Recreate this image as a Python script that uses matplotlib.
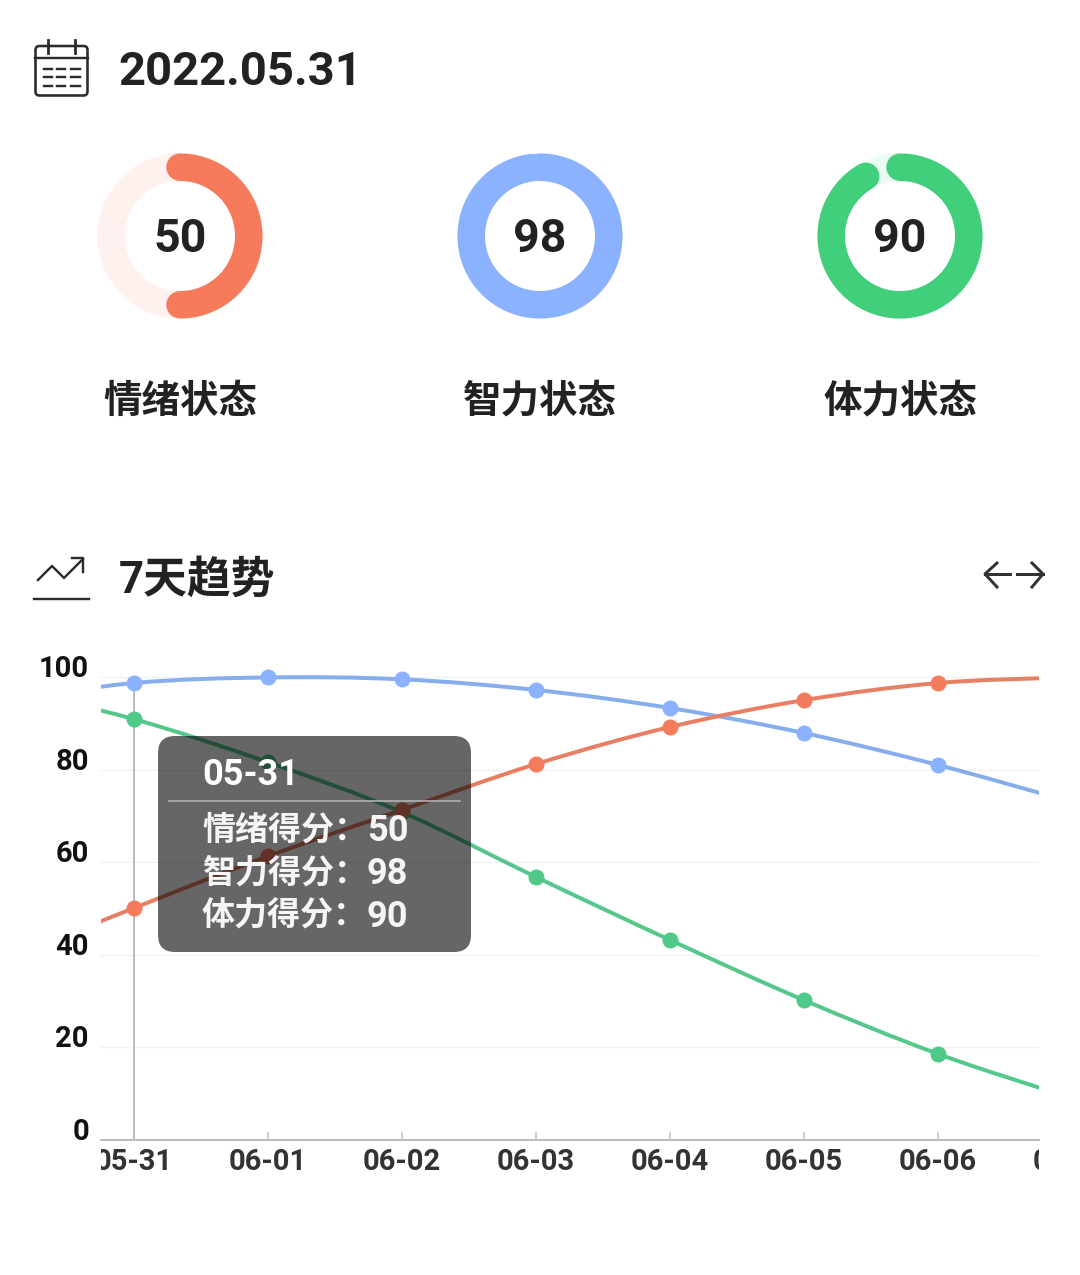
import numpy as np
import matplotlib
matplotlib.use('Agg')
import matplotlib.pyplot as plt
from matplotlib.path import Path
from matplotlib.patches import PathPatch, FancyBboxPatch
from matplotlib.transforms import Bbox, ScaledTranslation

plt.rcParams['font.family'] = ['Roboto', 'Noto Sans CJK SC', 'DejaVu Sans']
CJK = ['Noto Sans CJK SC', 'DejaVu Sans']

# ring values
ring_names = ['情绪状态', '智力状态', '体力状态']
ring_labels = ['50', '98', '90']
ring_values = [50, 98, 91.7]

# trend values, first and last day are cut off by the plot area
days = ['05-30', '05-31', '06-01', '06-02', '06-03', '06-04', '06-05', '06-06', '06-07']
mood = [38.5, 50.1, 61.3, 71.3, 81.2, 89.2, 95.0, 98.7, 100.0]
mind = [94.7, 98.7, 99.9, 99.5, 97.2, 93.3, 87.9, 81.0, 73.0]
body = [97.8, 90.9, 81.6, 70.8, 56.8, 43.2, 30.2, 18.6, 9.0]
y_ticks = [0, 20, 40, 60, 80, 100]

tip_title = '05-31'
tip_names = ['情绪得分：', '智力得分：', '体力得分：']
tip_values = ['50', '98', '90']

W, H = 1080, 1275
DPI = 100
PX = 72 / DPI  # one pixel in points

DARK = '#222222'
ORANGE, BLUE, GREEN = '#F57B5C', '#8AB2FF', '#41CF7C'
TRACKS = ['#FFF1EE', '#F0F5FF', '#EAFBF1']
LINE_COLORS = ['#55C78A', '#86AEEC', '#E67F64']
DOT_COLORS = ['#4FC987', '#8AB2FF', '#F47C5C']


def smooth_path(x, y):
    # bezier through the points, tangents from the neighbours
    x = np.asarray(x, float)
    y = np.asarray(y, float)
    dy = np.gradient(y, x)
    verts = [(x[0], y[0])]
    codes = [Path.MOVETO]
    for i in range(len(x) - 1):
        h = (x[i + 1] - x[i]) / 3
        verts += [(x[i] + h, y[i] + dy[i] * h), (x[i + 1] - h, y[i + 1] - dy[i + 1] * h), (x[i + 1], y[i + 1])]
        codes += [Path.CURVE4] * 3
    return Path(verts, codes)


fig = plt.figure(figsize=(W / DPI, H / DPI), dpi=DPI, facecolor='white')

# chart area in pixels: x 101-1039, value 0 at y=1140, value 100 at y=677
left, right, bottom, top = 101, 1039, 1140, 660
ax = fig.add_axes([left / W, 1 - bottom / H, (right - left) / W, (bottom - top) / H])
ax.set_xlim(-0.246 + 1, 6.754 + 1)
ax.set_ylim(0, (bottom - top) / 4.63)
ax.patch.set_alpha(0)
for s in ['top', 'left', 'right']:
    ax.spines[s].set_visible(False)
ax.spines['bottom'].set_color('#BDBDBD')
ax.spines['bottom'].set_linewidth(2 * PX)

xs = np.arange(len(days))
ax.set_yticks(y_ticks)
ax.set_yticklabels([str(v) for v in y_ticks])
ax.set_xticks(xs[1:8])
ax.set_xticklabels([])
ax.tick_params(axis='y', length=0, pad=12 * PX, labelsize=21, labelcolor='#111111')
ax.tick_params(axis='x', direction='in', length=8 * PX, width=1.5 * PX, color='#BDBDBD')
ax.grid(axis='y', color='#F1F1F1', linewidth=1.2 * PX, zorder=0)
ax.set_axisbelow(True)

shift = ScaledTranslation(0, 11 * PX / 72, fig.dpi_scale_trans)
for lab in ax.get_yticklabels():
    lab.set_fontweight('bold')
    lab.set_transform(lab.get_transform() + shift)
for t, g in zip(y_ticks, ax.yaxis.get_major_ticks()):
    if t == 0:
        g.gridline.set_visible(False)

ax.vlines(1, 0, 100, color='#BDBDBD', linewidth=2 * PX, zorder=1)

for vals, lc, dc in zip([body, mind, mood], LINE_COLORS, DOT_COLORS):
    ax.add_patch(PathPatch(smooth_path(xs, vals), fill=False, edgecolor=lc, linewidth=4 * PX, zorder=2))
    ax.plot(xs, vals, 'o', color=dc, markersize=16 * PX, markeredgewidth=0, zorder=3)

# day labels are cut at the plot edges
clip = Bbox([[left, 0], [right, H]])
for x, d in zip(xs, days):
    t = ax.annotate(d, (x, 0), xycoords=('data', 'axes fraction'), xytext=(0, -21.5 * PX),
                    textcoords='offset points', ha='center', va='center', fontsize=21,
                    fontweight='bold', color='#333333', annotation_clip=False)
    t.set_clip_on(True)
    t.set_clip_box(clip)

# overlay in pixel coordinates for header, rings, icons and tooltip
ov = fig.add_axes([0, 0, 1, 1])
ov.set_xlim(0, W)
ov.set_ylim(H, 0)
ov.axis('off')
ov.patch.set_alpha(0)

# calendar icon
ov.add_patch(FancyBboxPatch((35.5, 46), 52, 49.5, boxstyle='round,pad=0,rounding_size=4', fill=False,
                            edgecolor='#2B2B2B', linewidth=2.6 * PX))
ov.plot([35, 88], [58, 58], color='#2B2B2B', lw=2.4 * PX)
for x in [48, 75]:
    ov.plot([x, x], [40, 53], color='#2B2B2B', lw=2.8 * PX)
for y in [69, 77, 86]:
    for x0, x1 in [(44, 52), (57, 65), (71, 80)]:
        ov.plot([x0, x1], [y, y], color='#2B2B2B', lw=2.4 * PX)
ov.text(118, 72, '2022.05.31', fontsize=34, fontweight='bold', color=DARK, va='center', ha='left')

# rings
centers = [180, 540, 900]
cy = 236
r = 68.8
for cx, name, lab, val, col, track in zip(centers, ring_names, ring_labels, ring_values,
                                          [ORANGE, BLUE, GREEN], TRACKS):
    a = np.radians(np.linspace(0, 360, 361))
    ov.plot(cx + r * np.sin(a), cy - r * np.cos(a), color=track, lw=27.5 * PX, zorder=2)
    a = np.radians(np.linspace(0, val * 3.6, 361))
    ov.plot(cx + r * np.sin(a), cy - r * np.cos(a), color=col, lw=27.5 * PX, zorder=3,
            solid_capstyle='round')
    ov.text(cx, cy + 3, lab, fontsize=33.5, fontweight='bold', color=DARK, ha='center', va='center', zorder=4)
    ov.text(cx, 401, name, fontsize=27.7, fontweight='bold', color=DARK, ha='center', va='center', family=CJK)

# trend icon
ov.plot([38, 52, 64, 83], [580, 566, 578, 559], color='#2B2B2B', lw=2.4 * PX)
ov.plot([72, 83, 83], [558, 558, 572], color='#2B2B2B', lw=2.4 * PX)
ov.plot([34, 89], [599, 599], color='#2B2B2B', lw=2.4 * PX)
ov.text(119, 581, '7天趋势', fontsize=31.5, fontweight='bold', color=DARK, va='center', ha='left')

# left / right arrows
ov.plot([985, 1010], [574, 574], color='#333333', lw=3 * PX)
ov.plot([997, 985, 997], [563, 574, 587], color='#333333', lw=3 * PX)
ov.plot([1017, 1043], [574, 574], color='#333333', lw=3 * PX)
ov.plot([1032, 1043, 1032], [563, 574, 587], color='#333333', lw=3 * PX)

# tooltip
ov.add_patch(FancyBboxPatch((158, 736), 313, 216, boxstyle='round,pad=0,rounding_size=17',
                            facecolor='black', edgecolor='none', alpha=0.6, zorder=5))
ov.plot([169, 460], [801, 801], color='#B5B5B5', lw=1.6 * PX, zorder=6)
ov.text(202, 775, tip_title, fontsize=26, fontweight='bold', color='white', va='center', ha='left', zorder=6)
for y, n, v in zip([828, 871, 914], tip_names, tip_values):
    ov.text(202, y + 2, n, fontsize=23.8, fontweight='bold', color='#F5F5F5', va='center', ha='left', zorder=6,
            family=CJK)
    ov.text(367, y + 3, v, fontsize=26, fontweight='bold', color='#F5F5F5', va='center', ha='left', zorder=6)

fig.savefig('out.png', dpi=DPI)
